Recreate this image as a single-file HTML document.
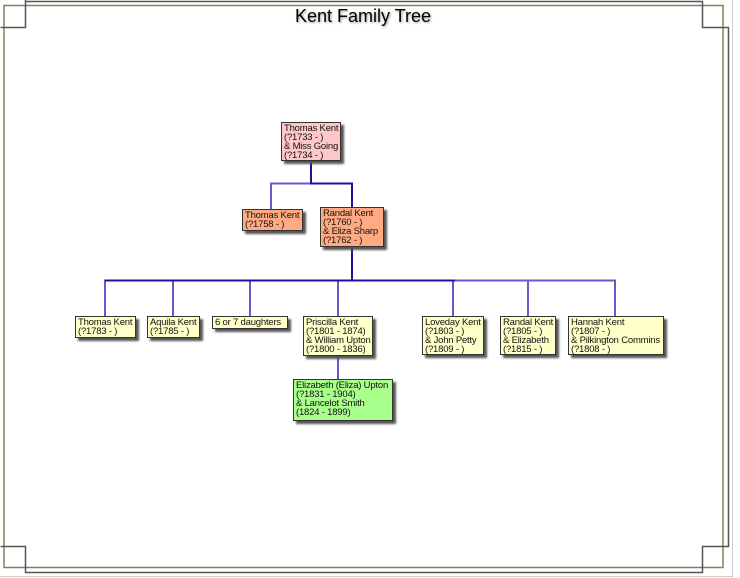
<!DOCTYPE html>
<html><head><style>
body{margin:0;width:740px;height:578px;background:#fff;position:relative;overflow:hidden;font-family:"Liberation Sans",sans-serif;}
.b{position:absolute;border:1px solid #333;box-shadow:3px 3px 2px #555;font-size:9.5px;line-height:9px;padding:1px 2px 2px 2px;box-sizing:border-box;color:#111;white-space:nowrap;letter-spacing:-0.2px}
.y{background:#ffffc8}.p{background:#ffc8c8}.o{background:#ffaa82}.g{background:#a8ff8c}
svg{position:absolute;left:0;top:0}
</style></head><body>
<svg width="740" height="578">
<line x1="732.5" y1="0" x2="732.5" y2="578" stroke="#ccc"/>
<line x1="0" y1="576.5" x2="733" y2="576.5" stroke="#ccc"/>
<rect x="4" y="5.5" width="719" height="562" fill="none" stroke="#8c7b5c" stroke-width="1.5"/>
<path d="M25 1.5H702.5V27.5H728.5V546.5H702.5V572.5H25.5V546.5H0.5M0.5 27.5H25.5V0" fill="none" stroke="#555" stroke-width="1.5"/>
<g stroke="#6a58cc" stroke-width="2" fill="none">
<path d="M271 209V183.5H352"/>
<path d="M105 316V280.5H615V316M173 280V316M250 280V316M338 280V316M453 280V316M528 280V316M338 356V379"/>
</g>
<g stroke="#2010a0" stroke-width="2" fill="none">
<path d="M311 160V183.5H352V207M352 247V280.5"/>
<path d="M105 280.5H455"/>
</g>
</svg>
<div style="position:absolute;left:0;width:726px;top:6px;text-align:center;font-size:18px;text-shadow:1px 1px 2px #999">Kent Family Tree</div>
<div class="b p" style="left:281px;top:122px;width:60px;height:39px">Thomas Kent<br>(?1733 - )<br>&amp; Miss Going<br>(?1734 - )</div>
<div class="b o" style="left:242px;top:209px;width:61px;height:22px">Thomas Kent<br>(?1758 - )</div>
<div class="b o" style="left:320px;top:207px;width:64px;height:40px">Randal Kent<br>(?1760 - )<br>&amp; Eliza Sharp<br>(?1762 - )</div>
<div class="b y" style="left:75px;top:316px;width:61px;height:22px">Thomas Kent<br>(?1783 - )</div>
<div class="b y" style="left:147px;top:316px;width:53px;height:22px">Aquila Kent<br>(?1785 - )</div>
<div class="b y" style="left:212px;top:316px;width:76px;height:13px">6 or 7 daughters</div>
<div class="b y" style="left:303px;top:316px;width:70px;height:40px">Priscilla Kent<br>(?1801 - 1874)<br>&amp; William Upton<br>(?1800 - 1836)</div>
<div class="b y" style="left:422px;top:316px;width:62px;height:39px">Loveday Kent<br>(?1803 - )<br>&amp; John Petty<br>(?1809 - )</div>
<div class="b y" style="left:500px;top:316px;width:56px;height:39px">Randal Kent<br>(?1805 - )<br>&amp; Elizabeth<br>(?1815 - )</div>
<div class="b y" style="left:568px;top:316px;width:96px;height:39px">Hannah Kent<br>(?1807 - )<br>&amp; Pilkington Commins<br>(?1808 - )</div>
<div class="b g" style="left:293px;top:379px;width:100px;height:42px">Elizabeth (Eliza) Upton<br>(?1831 - 1904)<br>&amp; Lancelot Smith<br>(1824 - 1899)</div>
</body></html>
